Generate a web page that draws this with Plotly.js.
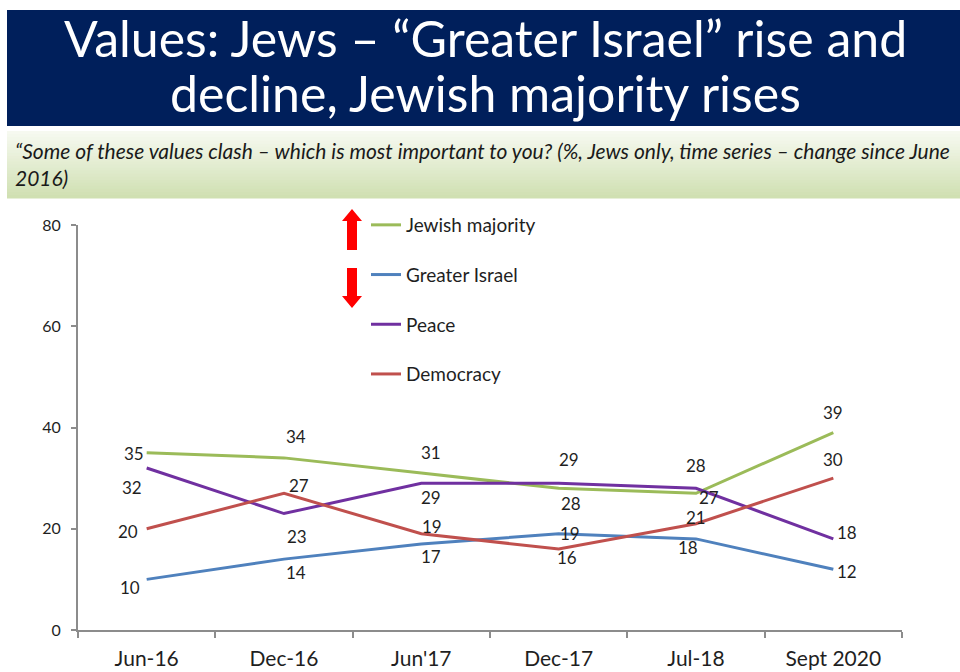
<!DOCTYPE html>
<html>
<head>
<meta charset="utf-8">
<script src="https://cdn.plot.ly/plotly-3.0.1.min.js"></script>
<style>
html,body{margin:0;padding:0;background:#fff;}
#chart{width:960px;height:672px;}
</style>
</head>
<body>
<div id="chart"></div>
<script>
// ---- data ----
const categories = ["Jun-16", "Dec-16", "Jun'17", "Dec-17", "Jul-18", "Sept 2020"];
const seriesNames = ["Jewish majority", "Greater Israel", "Peace", "Democracy"];
const jewishMajority = [35, 34, 31, 28, 27, 39];
const greaterIsrael = [10, 14, 17, 19, 18, 12];
const peace = [32, 23, 29, 29, 28, 18];
const democracy = [20, 27, 19, 16, 21, 30];
const yTicks = [0, 20, 40, 60, 80];
const titleLines = ["Values: Jews – “Greater Israel” rise and", "decline, Jewish majority rises"];
const subtitleText = "“Some of these values clash – which is most important to you? (%, Jews only, time series – change since June<br>2016)";

// ---- styles ----
const seriesValues = [jewishMajority, greaterIsrael, peace, democracy];
const colors = ["#9bbb59", "#4f81bd", "#7030a0", "#c0504d"];
// label offsets in pixels (dx, dy) per point
const labelOffsets = [
  [[-13,1],[12,-21],[10,-21],[12,15],[13,4],[0,-20]],
  [[-17,8],[12,13],[10,13],[11,0],[-8,9],[14,2]],
  [[-15,19],[13,23],[10,14],[10,-24],[0,-23],[14,-6]],
  [[-19,3],[15,-8],[11,-7],[8,8],[0,-6],[0,-19]]
];

const FONT = "Lato, 'Open Sans', sans-serif";
const M = {l:78, r:58, t:225, b:42};
const W = 960, H = 672;
const PW = W - M.l - M.r, PH = H - M.t - M.b;
const px = x => (x - M.l) / PW;
const py = y => (H - M.b - y) / PH;

const traces = seriesNames.map((n, i) => ({
  type: 'scatter', mode: 'lines', name: n,
  x: categories, y: seriesValues[i],
  line: {color: colors[i], width: 3},
  legendgroup: 'g' + i,
  hoverinfo: 'skip'
}));

const annotations = [];
seriesValues.forEach((vals, i) => {
  vals.forEach((v, j) => {
    annotations.push({
      x: categories[j], y: v, xref: 'x', yref: 'y',
      text: String(v), showarrow: false,
      xshift: labelOffsets[i][j][0], yshift: -labelOffsets[i][j][1],
      font: {family: FONT, size: 17, color: '#1f1f1f'}
    });
  });
});

// title (two lines placed separately)
const titleY = [38, 93];
titleLines.forEach((t, k) => {
  annotations.push({
    xref: 'paper', yref: 'paper', x: px(485), y: py(titleY[k]), xanchor: 'center', yanchor: 'middle',
    showarrow: false, text: t,
    font: {family: FONT, size: 50, color: '#ffffff'}
  });
});

// subtitle
annotations.push({
  xref: 'paper', yref: 'paper', x: px(13), y: py(164), xanchor: 'left', yanchor: 'middle',
  align: 'left', showarrow: false,
  text: "<i>" + subtitleText + "</i>",
  font: {family: FONT, size: 21, color: '#1a1a1a'}
});

const shapes = [];
// title band
shapes.push({type:'rect', xref:'paper', yref:'paper', x0:px(7), x1:px(960), y0:py(126), y1:py(10),
  fillcolor:'#001f5b', line:{width:0}, layer:'below'});
// subtitle gradient band
const gTop = [246, 249, 240], gBot = [208, 224, 178];
const nStripes = 22, y0b = 131, y1b = 198;
for (let s = 0; s < nStripes; s++) {
  const t = s / (nStripes - 1);
  const c = gTop.map((a, k) => Math.round(a + (gBot[k] - a) * t));
  const ya = y0b + (y1b - y0b) * s / nStripes;
  const yb = y0b + (y1b - y0b) * (s + 1) / nStripes;
  shapes.push({type:'rect', xref:'paper', yref:'paper', x0:px(7), x1:px(960), y0:py(yb + 0.5), y1:py(ya),
    fillcolor:`rgb(${c[0]},${c[1]},${c[2]})`, line:{width:0}, layer:'below'});
}
// red arrows
function pathFrom(pts){ return 'M ' + pts.map(p => px(p[0]) + ',' + py(p[1])).join(' L ') + ' Z'; }
shapes.push({type:'path', xref:'paper', yref:'paper', fillcolor:'#ff0000', line:{width:0},
  path: pathFrom([[352,209],[362,221],[357,221],[357,250],[347,250],[347,221],[342,221]])});
shapes.push({type:'path', xref:'paper', yref:'paper', fillcolor:'#ff0000', line:{width:0},
  path: pathFrom([[352,308],[362,296],[357,296],[357,268],[347,268],[347,296],[342,296]])});

const layout = {
  width: W, height: H,
  margin: {l:M.l, r:M.r, t:M.t, b:M.b, autoexpand:false},
  paper_bgcolor: '#ffffff', plot_bgcolor: '#ffffff',
  font: {family: FONT, color: '#1f1f1f'},
  showlegend: true,
  legend: {
    x: px(366), y: py(206), xanchor: 'left', yanchor: 'top',
    xref: 'paper', yref: 'paper',
    bgcolor: 'rgba(0,0,0,0)', borderwidth: 0,
    font: {family: FONT, size: 19, color: '#1f1f1f'},
    tracegroupgap: 22, traceorder: 'grouped', itemwidth: 30
  },
  xaxis: {
    type: 'category', range: [-0.5, categories.length - 0.5],
    showgrid: false, zeroline: false,
    showline: true, linecolor: '#8c8c8c', linewidth: 2,
    ticks: 'outside', tickson: 'boundaries', ticklen: 6, tickcolor: '#8c8c8c', tickwidth: 2,
    tickfont: {family: FONT, size: 21, color: '#1f1f1f'},
    ticklabelstandoff: 9, fixedrange: true
  },
  yaxis: {
    range: [0, 80], tickvals: yTicks, ticktext: yTicks.map(String),
    showgrid: false, zeroline: false,
    showline: true, linecolor: '#8c8c8c', linewidth: 2,
    ticks: 'outside', ticklen: 5, tickcolor: '#8c8c8c', tickwidth: 2,
    tickfont: {family: FONT, size: 16, color: '#1f1f1f'},
    ticklabelstandoff: 7, fixedrange: true
  },
  annotations: annotations,
  shapes: shapes
};

Plotly.newPlot('chart', traces, layout, {displayModeBar: false, staticPlot: true});
</script>
</body>
</html>
